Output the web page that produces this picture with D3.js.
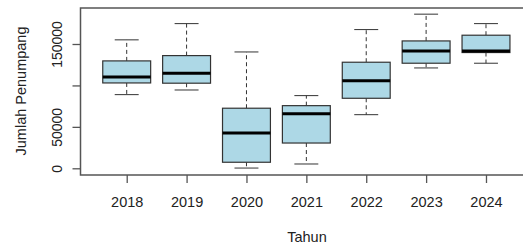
<!DOCTYPE html>
<html>
<head>
<meta charset="utf-8">
<script src="https://cdn.jsdelivr.net/npm/d3@7"></script>
<style>
  body { margin: 0; background: #fff; }
  svg { display: block; font-family: "Liberation Sans", Arial, sans-serif; }
</style>
</head>
<body>
<div id="chart"></div>
<script>
// data
var years    = ["2018", "2019", "2020", "2021", "2022", "2023", "2024"]
var whiskLo  = [88900, 94500, 300, 5200, 64700, 121100, 126800]
var q1       = [103000, 102700, 7300, 30500, 84500, 126800, 139700]
var medians  = [110300, 114700, 42600, 65900, 105800, 141700, 141700]
var q3       = [129600, 136000, 72500, 75600, 128000, 153700, 160600]
var whiskHi  = [155000, 174600, 140400, 87700, 167400, 186000, 174600]
var yTicks   = [0, 50000, 100000, 150000]
var yLabels  = ["0", "50000", "", "150000"]

var width = 523
    height = 246

var boxes = years.map(function(d, i) {
  return {year: d, i: i + 1, lo: whiskLo[i], q1: q1[i], med: medians[i], q3: q3[i], hi: whiskHi[i]}
})

var svg = d3.select("#chart")
  .append("svg")
  .attr("width", width)
  .attr("height", height)

// plot region (R style, the right side runs off the picture)
var x = d3.scaleLinear().domain([0.22, 7.78]).range([80, 532.7])
var y = d3.scaleLinear().domain([-8085, 193440]).range([175, 8])

var unit = x(2) - x(1)
var boxW = 0.8 * unit
var capW = 0.5 * boxW

var g = svg.append("g")

// whiskers
g.selectAll(".whisk")
  .data(boxes)
  .enter()
  .append("g")
  .each(function(d) {
    var s = d3.select(this)
    var cx = x(d.i)
    s.append("line").attr("x1", cx).attr("x2", cx).attr("y1", y(d.q3)).attr("y2", y(d.hi))
      .attr("stroke", "#333").attr("stroke-dasharray", "4,3")
    s.append("line").attr("x1", cx).attr("x2", cx).attr("y1", y(d.q1)).attr("y2", y(d.lo))
      .attr("stroke", "#333").attr("stroke-dasharray", "4,3")
    s.append("line").attr("x1", cx - capW / 2).attr("x2", cx + capW / 2).attr("y1", y(d.hi)).attr("y2", y(d.hi))
      .attr("stroke", "#333")
    s.append("line").attr("x1", cx - capW / 2).attr("x2", cx + capW / 2).attr("y1", y(d.lo)).attr("y2", y(d.lo))
      .attr("stroke", "#333")
  })

// boxes
g.selectAll("rect.box")
  .data(boxes)
  .enter()
  .append("rect")
  .attr("class", "box")
  .attr("x", function(d) { return x(d.i) - boxW / 2 })
  .attr("width", boxW)
  .attr("y", function(d) { return y(d.q3) })
  .attr("height", function(d) { return y(d.q1) - y(d.q3) })
  .attr("fill", "#ADD8E6")
  .attr("stroke", "#333")
  .attr("stroke-width", 1.2)

// medians
g.selectAll("line.med")
  .data(boxes)
  .enter()
  .append("line")
  .attr("class", "med")
  .attr("x1", function(d) { return x(d.i) - boxW / 2 })
  .attr("x2", function(d) { return x(d.i) + boxW / 2 })
  .attr("y1", function(d) { return y(d.med) })
  .attr("y2", function(d) { return y(d.med) })
  .attr("stroke", "#000")
  .attr("stroke-width", 3)

// frame
svg.append("rect")
  .attr("x", 80.5)
  .attr("y", 8)
  .attr("width", 460)
  .attr("height", 167)
  .attr("fill", "none")
  .attr("stroke", "#555")
  .attr("stroke-width", 1.5)

// y axis
var yAxis = svg.append("g")
  .attr("transform", "translate(80.5,0)")
  .call(d3.axisLeft(y).tickValues(yTicks).tickSize(8).tickFormat(function(d, i) { return yLabels[i] }))
yAxis.select(".domain").remove()
yAxis.selectAll("line").attr("stroke", "#555").attr("stroke-width", 1.3)
yAxis.selectAll("text")
  .attr("x", 0).attr("y", 0).attr("dy", 0)
  .attr("transform", "translate(-19,0) rotate(-90)")
  .style("text-anchor", "middle")
  .style("font-size", "14px")
  .attr("fill", "#222")

// x axis
var xAxis = svg.append("g")
  .attr("transform", "translate(0,175)")
  .call(d3.axisBottom(x).tickValues(boxes.map(function(d) { return d.i })).tickSize(8)
    .tickFormat(function(d) { return years[d - 1] }))
xAxis.select(".domain").remove()
xAxis.selectAll("line").attr("stroke", "#555").attr("stroke-width", 1.3)
xAxis.selectAll("text")
  .attr("y", 32).attr("dy", 0)
  .style("font-size", "14.5px")
  .attr("fill", "#222")

// axis titles
svg.append("text")
  .attr("x", 307)
  .attr("y", 242)
  .style("text-anchor", "middle")
  .style("font-size", "14.5px")
  .attr("fill", "#222")
  .text("Tahun")

svg.append("text")
  .attr("transform", "translate(26,91) rotate(-90)")
  .style("text-anchor", "middle")
  .style("font-size", "14.5px")
  .attr("fill", "#222")
  .text("Jumlah Penumpang")
</script>
</body>
</html>
